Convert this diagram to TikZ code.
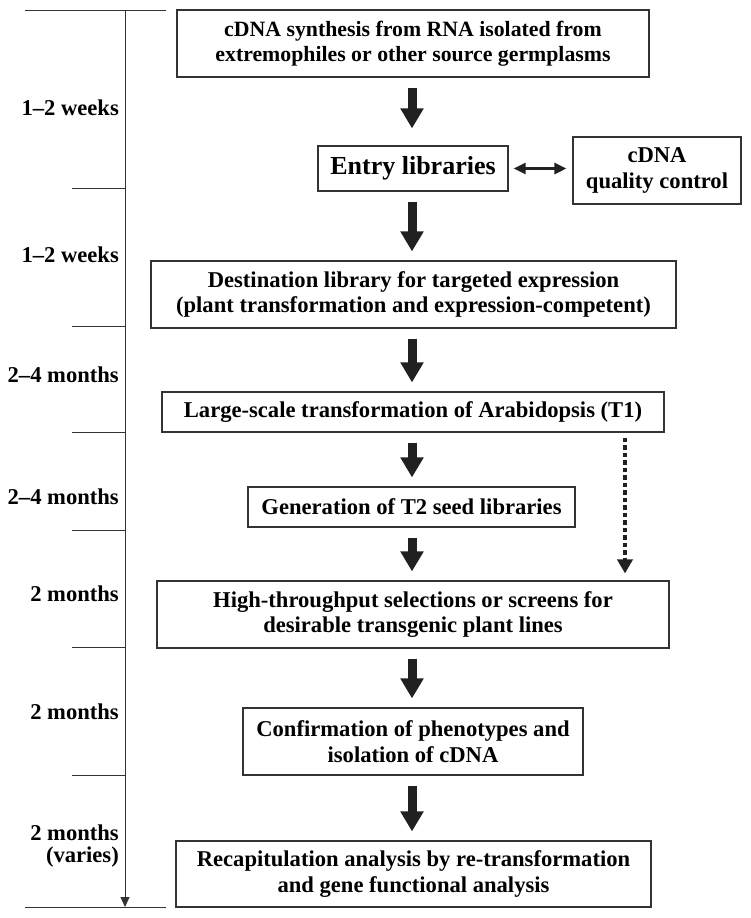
\documentclass[tikz,border=0pt]{standalone}
\usepackage{fontspec}
\setmainfont{Liberation Serif}
\usetikzlibrary{arrows.meta,calc}
\begin{document}
\begin{tikzpicture}[x=1pt,y=-1pt,
  box/.style={draw=black!80,line width=1.1pt,font=\bfseries\fontsize{22.6}{25.5}\selectfont,align=center,inner sep=0pt},
  bigarrow/.style={line width=9pt,draw=black!87,-{Triangle[width=22pt,length=20pt]},shorten <=10pt,shorten >=9pt},
  lab/.style={font=\bfseries\fontsize{22.6}{21.5}\selectfont,anchor=east,align=right,inner sep=0pt},
  tickline/.style={line width=1pt,draw=black!80}]
\useasboundingbox (0,0) rectangle (751,918);

% timeline
\coordinate (tl0) at (125,10);
\coordinate (tl1) at (125,907);
\coordinate (topl) at (25,10);
\coordinate (topr) at (166,10);
\coordinate (botl) at (25,907);
\coordinate (botr) at (166,907);
\draw[line width=1pt,black!80] (topl) -- (topr);
\draw[line width=1pt,black!80] (botl) -- (botr);
\draw[line width=1pt,black!80,-{Triangle[width=9pt,length=10pt]}] (tl0) -- (tl1);
\foreach \y/\n in {188/a,326/b,432/c,530/d,647/e,775/f}{
  \coordinate (t\n0) at (72,\y);
  \coordinate (t\n1) at (125,\y);
  \draw[tickline] (t\n0) -- (t\n1);
}

% time labels
\node[lab] (l1) at (119,108) {1--2 weeks};
\node[lab] (l2) at (119,255) {1--2 weeks};
\node[lab] (l3) at (119,375) {2--4 months};
\node[lab] (l4) at (119,497) {2--4 months};
\node[lab] (l5) at (119,594) {2 months};
\node[lab] (l6) at (119,712) {2 months};
\node[lab] (l7) at (119,846) {2 months\\(varies)};

% boxes
\node[box,minimum width=472pt,minimum height=67pt,font=\bfseries\fontsize{21.8}{25.5}\selectfont] (n1) at (413,43.5)
  {cDNA synthesis from RNA isolated from\\extremophiles or other source germplasms};
\node[box,minimum width=190pt,minimum height=45pt,font=\bfseries\fontsize{26}{30}\selectfont] (n2) at (413,168.5)
  {Entry libraries};
\node[box,minimum width=168pt,minimum height=67pt] (qc) at (657,170.5)
  {cDNA\\quality control};
\node[box,minimum width=525pt,minimum height=67pt] (n3) at (413.5,294.5)
  {Destination library for targeted expression\\(plant transformation and expression-competent)};
\node[box,minimum width=502pt,minimum height=40pt] (n4) at (413,412)
  {Large-scale transformation of Arabidopsis (T1)};
\node[box,minimum width=327pt,minimum height=40pt] (n5) at (411.5,507)
  {Generation of T2 seed libraries};
\node[box,minimum width=512pt,minimum height=67pt] (n6) at (413,614.5)
  {High-throughput selections or screens for\\desirable transgenic plant lines};
\node[box,minimum width=340pt,minimum height=67pt] (n7) at (413,741.5)
  {Confirmation of phenotypes and\\isolation of cDNA};
\node[box,minimum width=475pt,minimum height=66pt] (n8) at (413.5,874)
  {Recapitulation analysis by re-transformation\\and gene functional analysis};

% arrows
\coordinate (col) at (412,0);
\draw[bigarrow,shorten >=17pt] (n1.south -| col) -- (n2.north -| col);
\draw[bigarrow] (n2.south -| col) -- (n3.north -| col);
\draw[bigarrow] (n3.south -| col) -- (n4.north -| col);
\draw[bigarrow] (n4.south -| col) -- (n5.north -| col);
\draw[bigarrow] (n5.south -| col) -- (n6.north -| col);
\draw[bigarrow] (n6.south -| col) -- (n7.north -| col);
\draw[bigarrow] (n7.south -| col) -- (n8.north -| col);

\draw[line width=2.6pt,black!87,{Triangle[width=11pt,length=12pt]}-{Triangle[width=11pt,length=12pt]},shorten <=5pt,shorten >=6pt]
  (n2.east) -- (n2.east -| qc.west);

\coordinate (dcol) at (625,0);
\draw[line width=4.5pt,black!87,dash pattern=on 4.5pt off 3pt,-{Triangle[width=15pt,length=14pt]},shorten <=5pt,shorten >=7pt]
  (n4.south -| dcol) -- (n6.north -| dcol);
\end{tikzpicture}
\end{document}
